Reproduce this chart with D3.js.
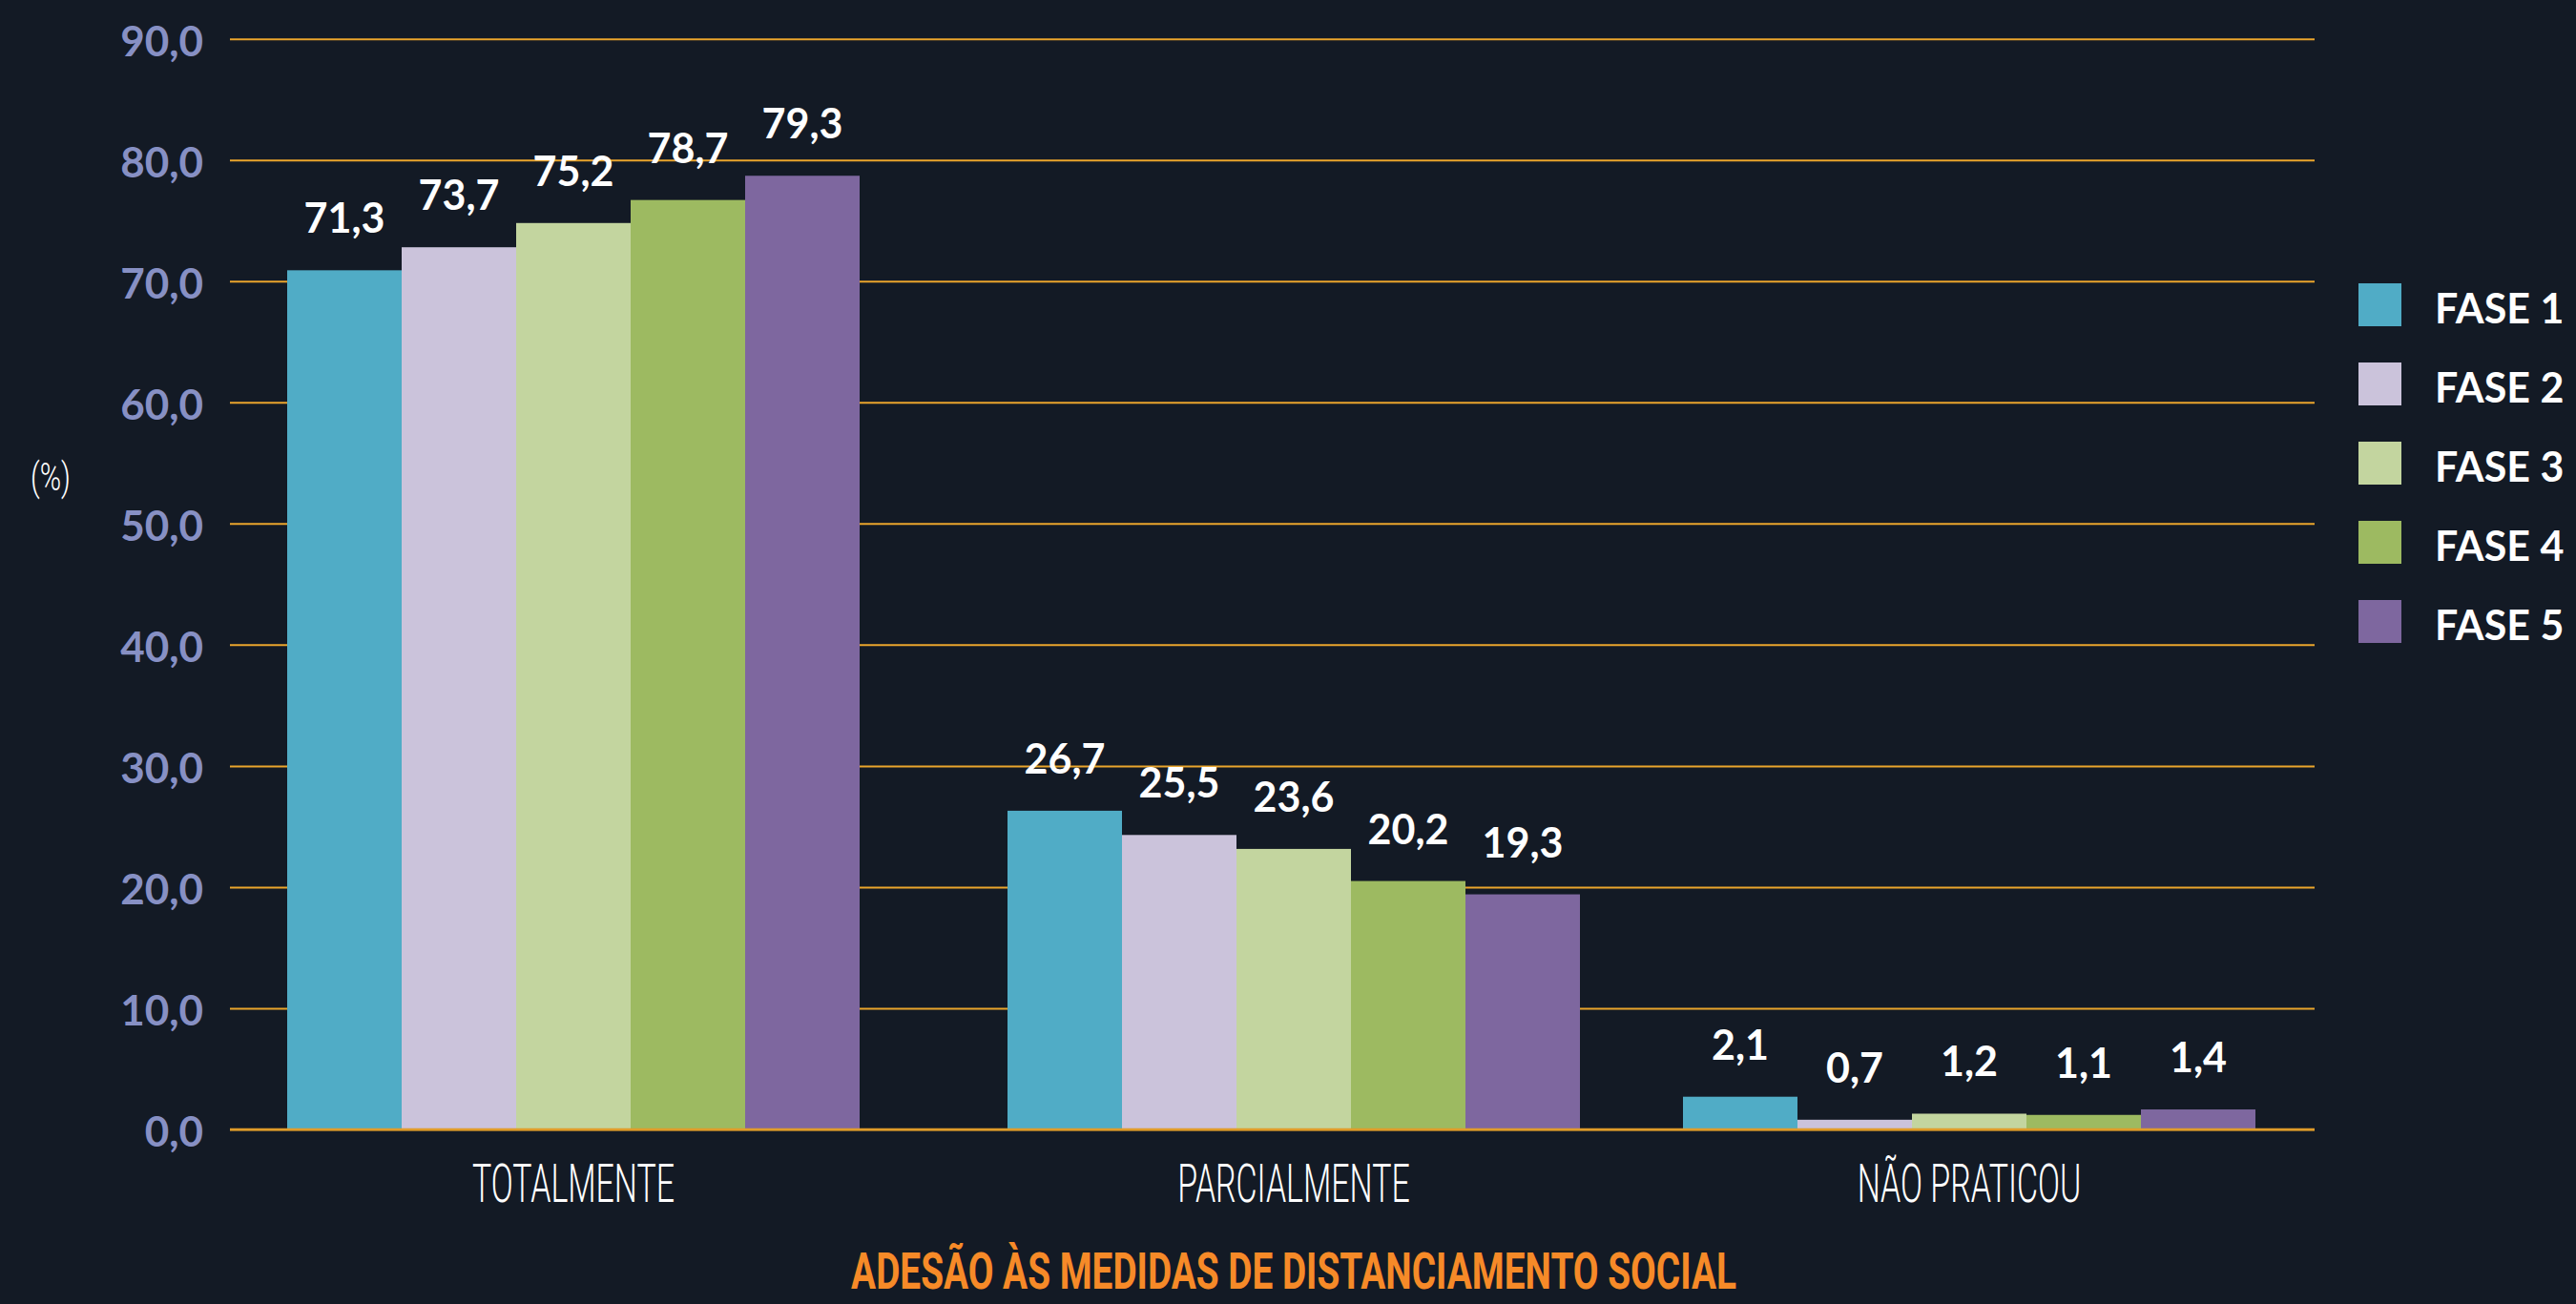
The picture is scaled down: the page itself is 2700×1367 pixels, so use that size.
<!DOCTYPE html>
<html>
<head>
<meta charset="utf-8">
<script src="https://cdn.jsdelivr.net/npm/d3@7"></script>
<style>
  html, body { margin: 0; padding: 0; background: #131a25; }
  svg { display: block; }
</style>
</head>
<body>
<svg id="chart" width="2700" height="1367"></svg>
<script>
// ---- data ----
const categories = ["TOTALMENTE", "PARCIALMENTE", "NÃO PRATICOU"];
const seriesNames = ["FASE 1", "FASE 2", "FASE 3", "FASE 4", "FASE 5"];
// printed values (labels)
const fase1 = [71.3, 26.7, 2.1];
const fase2 = [73.7, 25.5, 0.7];
const fase3 = [75.2, 23.6, 1.2];
const fase4 = [78.7, 20.2, 1.1];
const fase5 = [79.3, 19.3, 1.4];
// bar heights as drawn in the reference picture
const fase1Bars = [70.9, 26.3, 2.7];
const fase2Bars = [72.8, 24.3, 0.8];
const fase3Bars = [74.8, 23.15, 1.3];
const fase4Bars = [76.7, 20.5, 1.2];
const fase5Bars = [78.7, 19.4, 1.65];
const yTicks = [0, 10, 20, 30, 40, 50, 60, 70, 80, 90];
const colors = ["#50acc6", "#cbc3db", "#c3d59f", "#9dba61", "#7e679f"];

const labelSets = [fase1, fase2, fase3, fase4, fase5];
const barSets = [fase1Bars, fase2Bars, fase3Bars, fase4Bars, fase5Bars];

// ---- layout ----
const svg = d3.select("#chart");
const plotLeft = 241, plotRight = 2426;
const y = d3.scaleLinear().domain([0, 90]).range([1184, 40.7]);
const xGroup = d3.scaleOrdinal().domain(categories).range([601, 1356, 2064]);
const xInner = d3.scaleBand().domain(seriesNames).range([-300, 300]).padding(0);
const color = d3.scaleOrdinal().domain(seriesNames).range(colors);

const loc = d3.formatLocale({decimal: ",", thousands: ".", grouping: [3], currency: ["", ""]});
const fmt = loc.format(".1f");

// gridlines + y labels
const yAxis = d3.axisLeft(y).tickValues(yTicks).tickSize(-(plotRight - plotLeft)).tickPadding(28).tickFormat(fmt);
const gy = svg.append("g").attr("transform", `translate(${plotLeft},0)`).call(yAxis);
gy.select(".domain").remove();
gy.selectAll(".tick line").attr("stroke", "#eaa52c").attr("stroke-width", 2);
gy.selectAll(".tick text")
  .attr("fill", "#8790c4")
  .attr("font-family", "Lato, 'Open Sans', sans-serif")
  .attr("font-weight", 700)
  .attr("font-size", 44)
  .attr("dy", "0.4em");

// bars
const rows = [];
seriesNames.forEach((s, si) => {
  categories.forEach((c, ci) => {
    rows.push({series: s, cat: c, bar: barSets[si][ci], label: labelSets[si][ci]});
  });
});

svg.append("g").selectAll("rect").data(rows).join("rect")
  .attr("x", d => xGroup(d.cat) + xInner(d.series))
  .attr("width", xInner.bandwidth())
  .attr("y", d => y(d.bar))
  .attr("height", d => y(0) - y(d.bar))
  .attr("fill", d => color(d.series));

// baseline on top
svg.append("line")
  .attr("x1", plotLeft).attr("x2", plotRight)
  .attr("y1", y(0)).attr("y2", y(0))
  .attr("stroke", "#e09c2a").attr("stroke-width", 2.5);

// value labels
svg.append("g").selectAll("text").data(rows).join("text")
  .attr("x", d => xGroup(d.cat) + xInner(d.series) + xInner.bandwidth() / 2)
  .attr("y", d => y(d.bar) - 39)
  .attr("text-anchor", "middle")
  .attr("fill", "#ffffff")
  .attr("font-family", "Lato, 'Open Sans', sans-serif")
  .attr("font-weight", 700)
  .attr("font-size", 43)
  .text(d => fmt(d.label));

// category labels (condensed look via horizontal scale)
const catG = svg.append("g");
const catTexts = catG.selectAll("text").data(categories).join("text")
  .attr("text-anchor", "middle")
  .attr("fill", "#ffffff")
  .attr("font-family", "Roboto, sans-serif")
  .attr("font-weight", 300)
  .attr("font-size", 55)
  .text(d => d);
const catLen = catTexts.nodes()[0].getComputedTextLength();
const catScale = 212 / catLen;
catTexts.attr("transform", d => `translate(${xGroup(d)},1260) scale(${catScale},1)`);

// title
const title = svg.append("text")
  .attr("text-anchor", "middle")
  .attr("fill", "#f68a28")
  .attr("font-family", "Roboto, sans-serif")
  .attr("font-weight", 700)
  .attr("font-size", 54)
  .text("ADESÃO ÀS MEDIDAS DE DISTANCIAMENTO SOCIAL");
const tLen = title.node().getComputedTextLength();
title.attr("transform", `translate(1356,1351) scale(${928 / tLen},1)`);

// (%) label
const pct = svg.append("text")
  .attr("text-anchor", "middle")
  .attr("fill", "#ffffff")
  .attr("font-family", "Roboto, sans-serif")
  .attr("font-weight", 300)
  .attr("font-size", 40)
  .text("(%)");
const pLen = pct.node().getComputedTextLength();
pct.attr("transform", `translate(53,514) scale(${42 / pLen},1)`);

// legend
const leg = svg.append("g").selectAll("g").data(seriesNames).join("g")
  .attr("transform", (d, i) => `translate(2472,${297 + i * 83})`);
leg.append("rect").attr("width", 45).attr("height", 45).attr("fill", d => color(d));
leg.append("text")
  .attr("x", 80).attr("y", 42)
  .attr("fill", "#ffffff")
  .attr("font-family", "Lato, 'Open Sans', sans-serif")
  .attr("font-weight", 700)
  .attr("font-size", 43)
  .text(d => d);
</script>
</body>
</html>
